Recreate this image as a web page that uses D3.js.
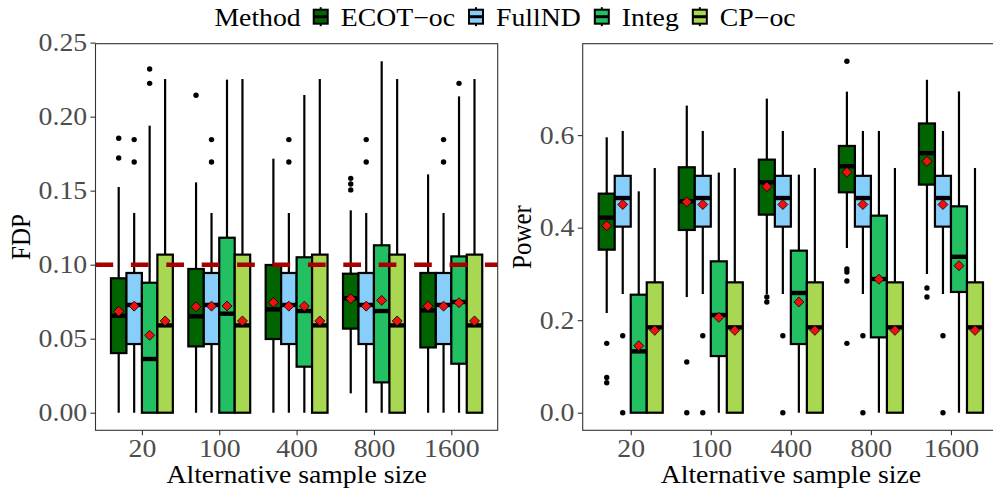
<!DOCTYPE html>
<html>
<head>
<meta charset="utf-8">
<script src="https://cdn.jsdelivr.net/npm/d3@7"></script>
<style>
  body { margin: 0; background: #fff; }
  svg { display: block; }
  text { font-family: "Liberation Serif", "Times New Roman", serif; }
</style>
</head>
<body>
<svg id="chart" width="993" height="491"></svg>
<script>
const sampleSizes = ['20', '100', '400', '800', '1600'];
const methods = ['ECOT\u2212oc', 'FullND', 'Integ', 'CP\u2212oc'];
const methodColors = ['#006400', '#87CEFA', '#22C063', '#A8D852'];

// each row: [lower whisker, q1, median, q3, upper whisker, mean], one row per sample size
const fdpEcot = [
  [0, .0403, .0655, .0908, .1525, .0685],
  [0, .0448, .0651, .0971, .1556, .0716],
  [0, .0498, .0698, .0998, .1716, .0745],
  [.0131, .0568, .0773, .0939, .1367, .0770],
  [0, .0441, .0691, .0944, .1610, .0720]
];
const fdpFull = [
  [0, .0464, .0728, .0944, .1349, .0720],
  [0, .0464, .0728, .0944, .1349, .0720],
  [0, .0464, .0728, .0944, .1349, .0720],
  [0, .0464, .0728, .0944, .1349, .0720],
  [0, .0464, .0728, .0944, .1349, .0720]
];
const fdpInteg = [
  [0, 0, .0363, .0878, .1939, .0523],
  [0, 0, .0669, .1182, .2250, .0721],
  [0, .0311, .0687, .1050, .2146, .0720],
  [0, .0205, .0687, .1131, .2374, .0759],
  [0, .0331, .0748, .1056, .2137, .0743]
];
const fdpCp = [
  [0, 0, .0590, .1068, .2254, .0620],
  [0, 0, .0590, .1068, .2254, .0620],
  [0, 0, .0590, .1068, .2254, .0620],
  [0, 0, .0590, .1068, .2254, .0620],
  [0, 0, .0590, .1068, .2254, .0620]
];
const fdpEcotOut = [[.1854, .1721], [.2144], [], [.1583, .1545, .1505], []];
const fdpFullOut = [[.1845, .1694], [.1845, .1694], [.1845, .1694], [.1845, .1694], [.1845, .1694]];
const fdpIntegOut = [[.2322, .2225], [], [], [], [.2225]];
const fdpCpOut = [[], [], [], [], []];

const powEcot = [
  [.2155, .3524, .4216, .4735, .5953, .4043],
  [.2500, .3950, .4570, .5305, .6638, .4555],
  [.2566, .4281, .4980, .5470, .6789, .4886],
  [.3560, .4764, .5326, .5766, .6940, .5196],
  [.2998, .4930, .5610, .6252, .7196, .5434]
];
const powFull = [
  [.2566, .4022, .4640, .5120, .6090, .4500],
  [.2566, .4022, .4640, .5120, .6090, .4500],
  [.2566, .4022, .4640, .5120, .6090, .4500],
  [.2566, .4022, .4640, .5120, .6090, .4500],
  [.2566, .4022, .4640, .5120, .6090, .4500]
];
const powInteg = [
  [0, 0, .1326, .2551, .4785, .1449],
  [0, .1225, .2112, .3272, .5190, .2061],
  [0, .1485, .2588, .3503, .5146, .2393],
  [0, .1629, .2890, .4259, .6090, .2886],
  [0, .2610, .3370, .4461, .6945, .3178]
];
const powCp = [
  [0, 0, .1845, .2818, .5290, .1780],
  [0, 0, .1845, .2818, .5290, .1780],
  [0, 0, .1845, .2818, .5290, .1780],
  [0, 0, .1845, .2818, .5290, .1780],
  [0, 0, .1845, .2818, .5290, .1780]
];
const powEcotOut = [[.1499, .0764, .0649], [.1096, 0], [.2500, .2393], [.7596, .3107, .3042, .2847, .1499], [.2696, .2500]];
const powFullOut = [[.1665, 0], [.1665, 0], [.1665, 0], [.1665, 0], [.1665, 0]];
const powIntegOut = [[], [], [], [], []];
const powCpOut = [[], [], [], [], []];

const fdpTicks = [0, 0.05, 0.10, 0.15, 0.20, 0.25];
const powTicks = [0, 0.2, 0.4, 0.6];
const fdpTarget = 0.1;

// the picture is stretched a little horizontally, so text is too
const SX = 1.11;
const FS = 25;

const svg = d3.select('#chart');
const panelTop = 43.7, panelBottom = 430.3;

function stretchText(sel, x, y, rot) {
  sel.attr('transform', 'translate(' + x + ',' + y + ') scale(' + SX + ',1)' + (rot ? ' rotate(' + rot + ')' : ''));
  return sel;
}

function drawPanel(cfg) {
  const x = d3.scalePoint().domain(sampleSizes).range([cfg.x0, cfg.x1]).padding(0.6);
  const allVals = [];
  cfg.stats.forEach((m, i) => m.forEach((s, j) => {
    allVals.push(s[0], s[4]);
    cfg.outs[i][j].forEach(v => allVals.push(v));
  }));
  const lo = d3.min(allVals), hi = d3.max(allVals), pad = (hi - lo) * 0.05;
  const y = d3.scaleLinear().domain([lo - pad, hi + pad]).range([panelBottom, panelTop]);

  const step = x.step();
  const bw = step * 0.2;
  const g = svg.append('g');

  // axes
  const ya = g.append('g')
    .attr('transform', 'translate(' + cfg.x0 + ',0)')
    .call(d3.axisLeft(y).tickValues(cfg.ticks).tickFormat(d3.format(cfg.fmt)).tickSize(5).tickPadding(2.5));
  const xa = g.append('g')
    .attr('transform', 'translate(0,' + panelBottom + ')')
    .call(d3.axisBottom(x).tickSize(5).tickPadding(4));
  [ya, xa].forEach(a => {
    a.select('.domain').remove();
    a.selectAll('.tick line').attr('stroke', '#333').attr('stroke-width', 1.1);
    a.selectAll('.tick text')
      .attr('fill', '#4d4d4d')
      .attr('font-size', FS)
      .attr('font-family', '"Liberation Serif", serif')
      .attr('transform', 'scale(' + SX + ',1)');
  });

  // boxes
  cfg.stats.forEach((m, i) => {
    const off = (i - 1.5) * bw;
    m.forEach((s, j) => {
      const cx = x(sampleSizes[j]) + off;
      const bg = g.append('g');
      bg.append('line').attr('x1', cx).attr('x2', cx).attr('y1', y(s[3])).attr('y2', y(s[4]))
        .attr('stroke', '#000').attr('stroke-width', 2.2);
      bg.append('line').attr('x1', cx).attr('x2', cx).attr('y1', y(s[1])).attr('y2', y(s[0]))
        .attr('stroke', '#000').attr('stroke-width', 2.2);
      bg.append('rect')
        .attr('x', cx - bw / 2).attr('width', bw)
        .attr('y', y(s[3])).attr('height', Math.max(0, y(s[1]) - y(s[3])))
        .attr('fill', methodColors[i]).attr('stroke', '#000').attr('stroke-width', 2.2);
      bg.append('line').attr('x1', cx - bw / 2).attr('x2', cx + bw / 2)
        .attr('y1', y(s[2])).attr('y2', y(s[2]))
        .attr('stroke', '#000').attr('stroke-width', 4.4);
      bg.selectAll('circle').data(cfg.outs[i][j]).enter().append('circle')
        .attr('cx', cx).attr('cy', d => y(d)).attr('r', 2.7).attr('fill', '#000');
    });
  });

  if (cfg.hline != null) {
    g.append('line')
      .attr('x1', cfg.x0).attr('x2', cfg.x1)
      .attr('y1', y(cfg.hline)).attr('y2', y(cfg.hline))
      .attr('stroke', '#A80000').attr('stroke-width', 4.4)
      .attr('stroke-dasharray', '17.7 17.7');
  }

  // means
  const r = 5;
  cfg.stats.forEach((m, i) => {
    const off = (i - 1.5) * bw;
    g.selectAll('.mean' + i).data(m).enter().append('path')
      .attr('class', 'mean' + i)
      .attr('d', 'M0,' + (-r) + 'L' + r + ',0L0,' + r + 'L' + (-r) + ',0Z')
      .attr('transform', (s, j) => 'translate(' + (x(sampleSizes[j]) + off) + ',' + y(s[5]) + ')')
      .attr('fill', '#EE1111').attr('stroke', '#000').attr('stroke-width', 0.8);
  });

  // panel border
  g.append('rect')
    .attr('x', cfg.x0).attr('y', panelTop)
    .attr('width', cfg.x1 - cfg.x0).attr('height', panelBottom - panelTop)
    .attr('fill', 'none').attr('stroke', '#333').attr('stroke-width', 1.1);

  // titles
  stretchText(g.append('text'), (cfg.x0 + cfg.x1) / 2, 483)
    .attr('text-anchor', 'middle').attr('font-size', FS).attr('fill', '#000')
    .text('Alternative sample size');
  stretchText(g.append('text'), cfg.titleX, (panelTop + panelBottom) / 2, -90)
    .attr('text-anchor', 'middle').attr('font-size', FS).attr('fill', '#000')
    .text(cfg.title);
}

drawPanel({
  x0: 95.5, x1: 497.7, title: 'FDP', titleX: 30, ticks: fdpTicks, fmt: '.2f', hline: fdpTarget,
  stats: [fdpEcot, fdpFull, fdpInteg, fdpCp],
  outs: [fdpEcotOut, fdpFullOut, fdpIntegOut, fdpCpOut]
});
drawPanel({
  x0: 582.7, x1: 999, title: 'Power', titleX: 530.7, ticks: powTicks, fmt: '.1f', hline: null,
  stats: [powEcot, powFull, powInteg, powCp],
  outs: [powEcotOut, powFullOut, powIntegOut, powCpOut]
});

// legend
const leg = svg.append('g');
const legY = 26, keyMid = 16.7;
let cx = 0;
const t0 = stretchText(leg.append('text'), 0, legY).attr('font-size', FS).text('Method');
cx += t0.node().getComputedTextLength() * SX + 10;
methods.forEach((m, i) => {
  const kx = cx;
  const k = leg.append('g');
  k.append('line').attr('x1', kx + 10).attr('x2', kx + 10).attr('y1', keyMid - 9.5).attr('y2', keyMid + 9.5)
    .attr('stroke', '#000').attr('stroke-width', 2);
  k.append('rect').attr('x', kx + 3).attr('width', 14).attr('y', keyMid - 7).attr('height', 14)
    .attr('fill', methodColors[i]).attr('stroke', '#000').attr('stroke-width', 2);
  k.append('line').attr('x1', kx + 3).attr('x2', kx + 17).attr('y1', keyMid).attr('y2', keyMid)
    .attr('stroke', '#000').attr('stroke-width', 3);
  cx += 20 + 10;
  const t = stretchText(leg.append('text'), cx, legY).attr('font-size', FS).text(m);
  cx += t.node().getComputedTextLength() * SX + 11;
});
const legW = cx - 11;
leg.attr('transform', 'translate(' + (505 - legW / 2) + ',0)');
</script>
</body>
</html>
